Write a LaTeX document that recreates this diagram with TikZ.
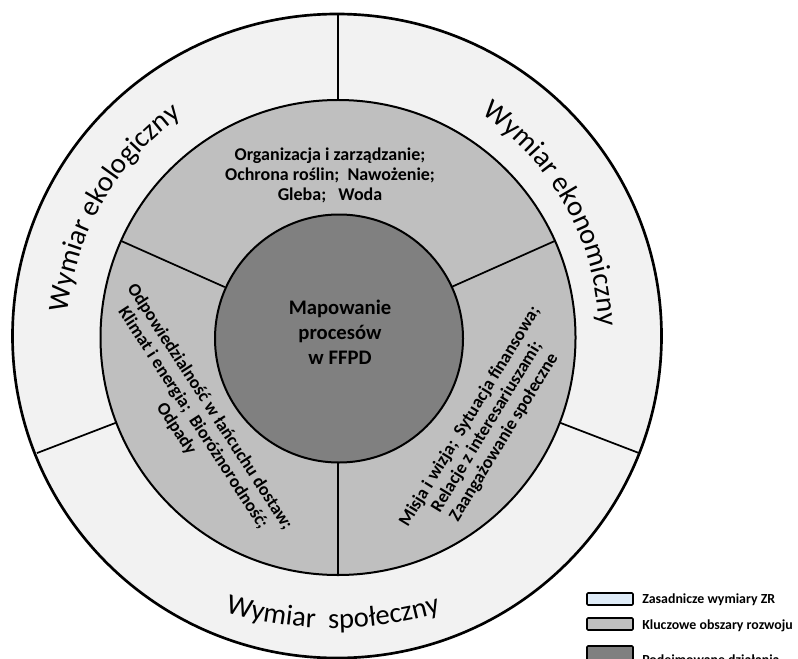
\documentclass[tikz,border=0pt]{standalone}
\usepackage{fontspec}
\setmainfont{Carlito}
\usetikzlibrary{decorations.text}
\definecolor{ringA}{HTML}{F2F2F2}
\definecolor{ringB}{HTML}{BFBFBF}
\definecolor{ringC}{HTML}{808080}
\definecolor{legA}{HTML}{DEEBF7}
\tikzset{
  lab/.style={font=\bfseries\fontsize{13.5}{15}\selectfont, align=center, text=black, inner sep=0pt},
  divider/.style={line width=1.3pt},
  legbox/.style={draw, line width=1.2pt, rounded corners=0.8pt},
  legtext/.style={font=\bfseries\fontsize{10.4}{12}\selectfont, anchor=west, inner sep=0pt},
  arclab/.style={decorate, decoration={text along path, text align=center, text={|\fontsize{21.5}{26}\selectfont|#1}}}
}
\begin{document}
\begin{tikzpicture}[x=0.75pt,y=0.75pt,line join=round]
\useasboundingbox (0,0) rectangle (798,-659);
\fill[white] (0,0) rectangle (798,-659);
\coordinate (C) at (338,-337.5);
\coordinate (CO) at (337,-336);
\coordinate (CI) at (339,-338.5);
\coordinate (CB) at (333,-248);
\coordinate (CE) at (331,-336);
% rings
\draw[fill=ringA, line width=2pt] (CO) ellipse [x radius=324.5, y radius=322];
\draw[fill=ringB, line width=1.5pt] (C) circle [radius=237.5];
\draw[fill=ringC, line width=1.5pt] (CI) circle [radius=124];
% middle ring dividers
\foreach \a/\n in {156/m1, 24/m2, 270/m3}{
  \path (C) ++(\a:124) coordinate (\n a);
  \path (C) ++(\a:237.5) coordinate (\n b);
  \draw[divider] (\n a) -- (\n b);
}
% outer ring dividers
\foreach \a/\n in {90/o1, 201/o2, -21/o3}{
  \path (C) ++(\a:237.5) coordinate (\n a);
  \path (C) ++(\a:322.5) coordinate (\n b);
  \draw[divider] (\n a) -- (\n b);
}
% texts
\node[lab] (top) at (330,-175) {Organizacja i zarządzanie;\\Ochrona roślin;\ \ Nawożenie;\\Gleba;\ \ \ Woda};
\node[font=\bfseries\fontsize{15.5}{18.75}\selectfont, align=center, inner sep=0pt] (ctr) at (340,-332) {Mapowanie\\procesów\\w FFPD};
\node[lab, rotate=-57] (left) at (193,-418) {Odpowiedzialność w łańcuchu dostaw;\\Klimat i energia;\ \ Bioróżnorodność;\\Odpady};
\node[lab, rotate=58.6] (right) at (487,-427) {Misja i wizja;\ \ Sytuacja finansowa;\\Relacje z interesariuszami;\\Zaangażowanie społeczne};
% outer dimension labels along arcs
\path[arclab={Wymiar ekologiczny}] (C) ++(192:271) arc [start angle=192, end angle=108, radius=271];
\path[arclab={Wymiar ekonomiczny}] (CE) ++(76:268) arc [start angle=76, end angle=-18, radius=268];
\path[arclab={Wymiar{\kern0.45em}społeczny}] (CB) ++(248:380) arc [start angle=248, end angle=292, radius=380];
% legend
\draw[legbox, fill=legA] (587,-593) rectangle (633,-605);
\draw[legbox, fill=ringB] (587,-618) rectangle (633,-630);
\draw[legbox, fill=ringC] (587,-646) rectangle (633,-664);
\node[legtext] (l1) at (642,-600) {Zasadnicze wymiary ZR};
\node[legtext] (l2) at (642,-626) {Kluczowe obszary rozwoju};
\node[legtext] (l3) at (642,-661) {Podejmowane działania};
\end{tikzpicture}
\end{document}
